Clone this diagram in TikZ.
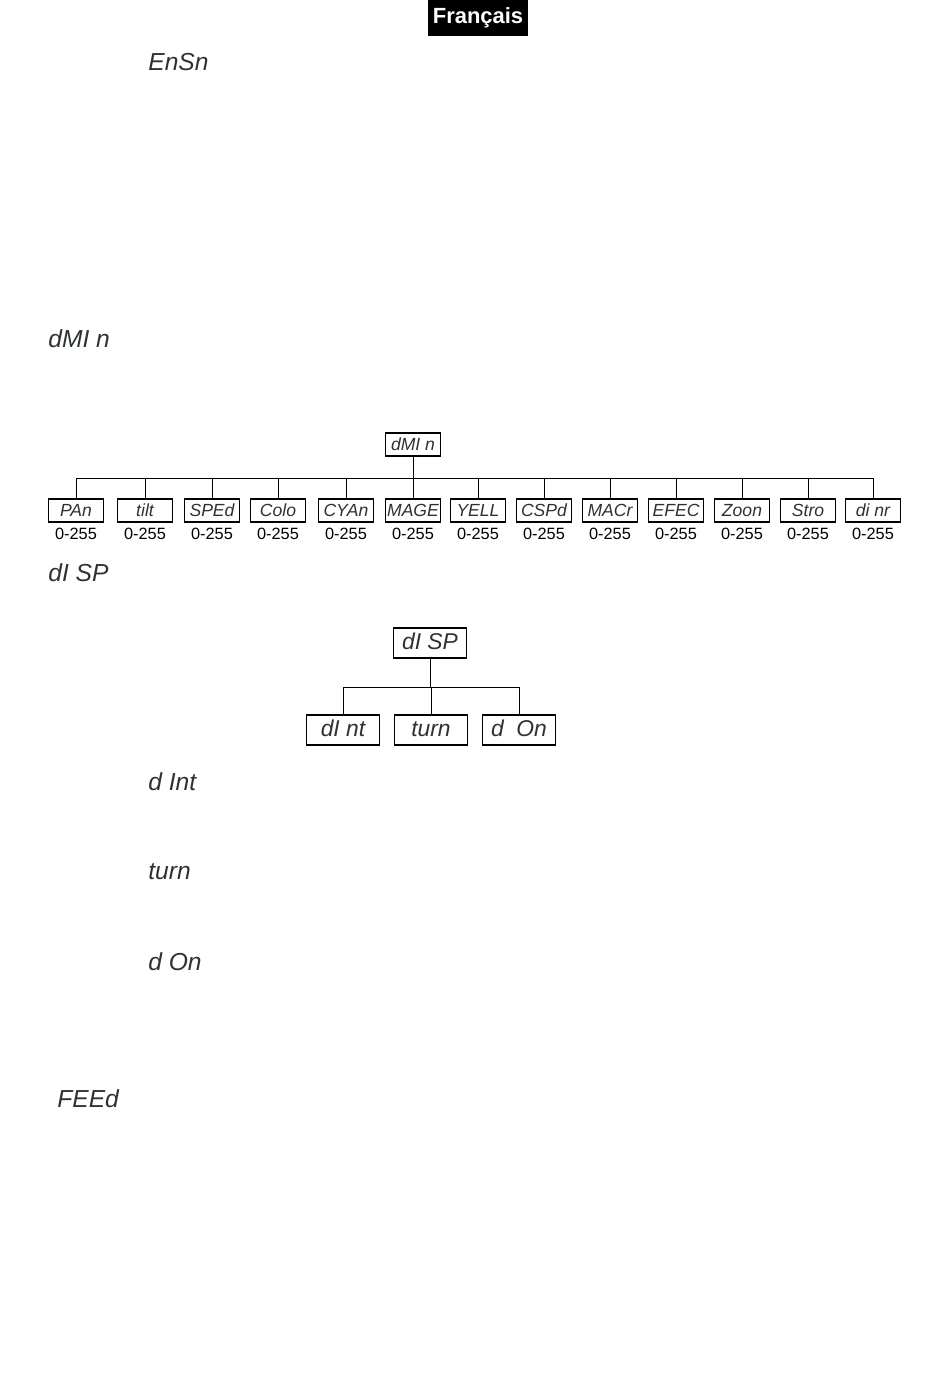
\documentclass[tikz,border=0pt]{standalone}
\usepackage{fontspec}
\setmainfont{Liberation Sans}
\usetikzlibrary{positioning}

\definecolor{segcol}{RGB}{45,50,52}
\newcommand{\seg}{\itshape\color{segcol}}

\tikzset{
  menubox/.style={draw,line width=0.6pt,minimum width=1.1cm,minimum height=0.46cm,inner sep=0pt,text height=1.45ex,text depth=0.1ex,font=\fontsize{10}{11}\selectfont\seg},
  bigbox/.style={draw,line width=0.6pt,minimum width=1.46cm,minimum height=0.6cm,inner sep=0pt,text height=1.45ex,text depth=0.1ex,font=\fontsize{13}{14}\selectfont\seg},
  rangelabel/.style={inner sep=0pt,font=\fontsize{9.3}{10}\selectfont},
  headline/.style={inner sep=0pt,anchor=west,font=\fontsize{14}{15}\selectfont\seg},
  wire/.style={line width=0.55pt}
}

\begin{document}
\begin{tikzpicture}[x=0.02cm,y=-0.02cm]

\useasboundingbox (0,0) rectangle (950,1388);

% The language tab
\node[fill=black,text=white,minimum width=2cm,minimum height=0.72cm,inner sep=0pt,font=\fontsize{12.5}{13}\selectfont\bfseries] (lang) at (478,18) {Français};

% The menu headings
\node[headline] (ensn) at (148,62) {EnSn};
\node[headline] (dmin) at (48,339) {dMI n};
\node[headline] (disp) at (48,573) {dI SP};
\node[headline] (dint) at (148,782) {d Int};
\node[headline] (turn) at (148,872) {turn};
\node[headline] (don) at (148,962) {d On};
\node[headline] (feed) at (57,1099) {FEEd};

% The DMX tree
\node[menubox] (top) at (413,444.5) {dMI n};
\coordinate (bus) at (413,478);
\draw[wire] (top) -- (bus);
\foreach \xx/\name/\txt in {76/pan/PAn,145/tilt/tilt,212/sped/SPEd,278/colo/Colo,346/cyan/CYAn,413/mage/MAGE,478/yell/YELL,544/cspd/CSPd,610/macr/MACr,676/efec/EFEC,742/zoon/Zoon,808/stro/Stro,873/dimr/di nr}
{
  \node[menubox] (\name) at (\xx,510.5) {\txt};
  \node[rangelabel,below=3pt of \name] (\name-r) {0-255};
  \coordinate (\name-b) at (\xx,478);
  \draw[wire] (\name-b) -- (\name);
}
\draw[wire] (pan-b) -- (dimr-b);

% The display tree
\node[bigbox] (dsp) at (430,643) {dI SP};
\coordinate (dbus) at (430,687);
\draw[wire] (dsp) -- (dbus);
\foreach \xx/\name/\txt in {343/tint/dI nt,431/tturn/turn,519/tdon/d\ \ On}
{
  \node[bigbox] (\name) at (\xx,730) {\txt};
  \coordinate (\name-b) at (\xx,687);
  \draw[wire] (\name-b) -- (\name);
}
\draw[wire] (tint-b) -- (tdon-b);

\end{tikzpicture}
\end{document}
